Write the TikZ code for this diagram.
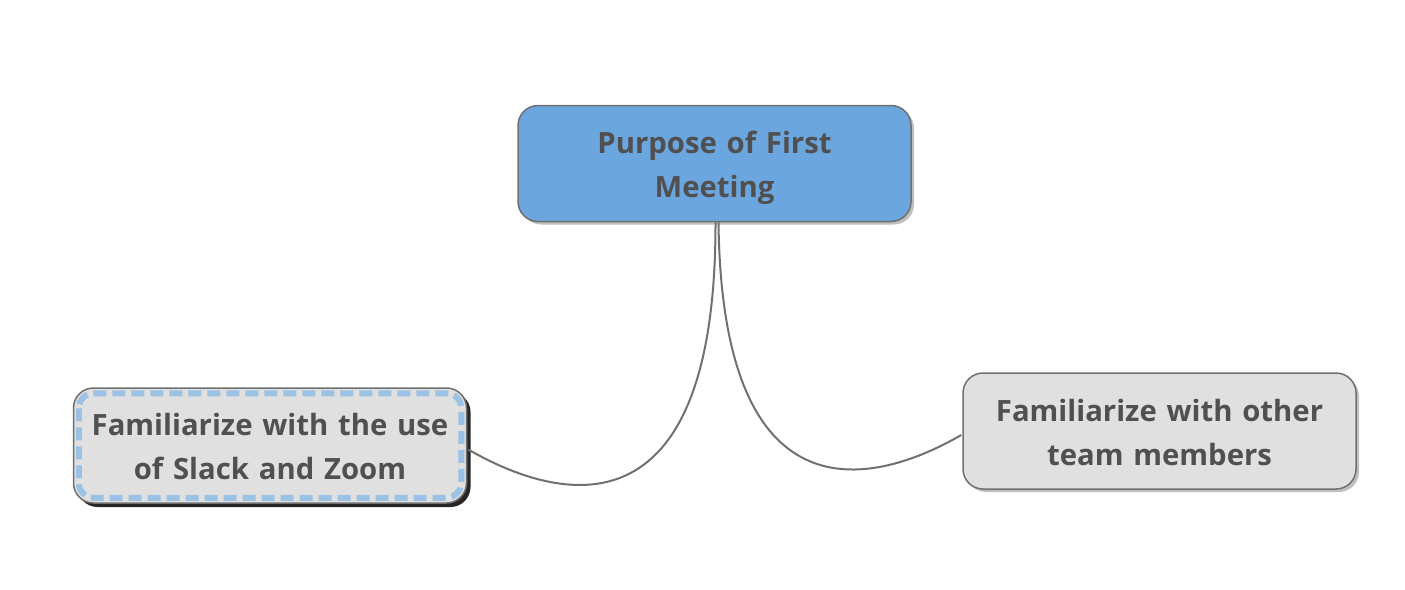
\documentclass[tikz,border=0pt]{standalone}
\usepackage{fontspec}
\setmainfont{Open Sans}
\usetikzlibrary{shadows,calc}

\definecolor{topic}{HTML}{6BA6DE}
\definecolor{subtopic}{HTML}{E0E0E0}
\definecolor{edge}{HTML}{707070}
\definecolor{ink}{HTML}{505050}
\definecolor{selblue}{HTML}{9BC1E4}

\newcommand{\linestrut}{\rule[-8pt]{0pt}{40pt}}

\tikzset{
    box/.style={draw=edge, line width=1.5pt, rounded corners=20pt, minimum width=393pt, minimum height=116pt, text width=385pt, align=center, text=ink, font=\fontsize{29.3}{44}\selectfont\bfseries, execute at begin node=\linestrut, execute at end node=\linestrut},
    softshadow/.style={drop shadow={shadow xshift=3pt, shadow yshift=-3pt, opacity=0.25, fill=black}},
    hardshadow/.style={drop shadow={shadow xshift=4pt, shadow yshift=-4pt, opacity=0.85, fill=black}},
    link/.style={draw=edge, line width=2pt}
}

\begin{document}
\begin{tikzpicture}[x=1pt, y=-1pt]
    \useasboundingbox (0, 0) rectangle (1405, 589);

    \coordinate (topC) at (714.5, 163.5);
    \coordinate (leftC) at (270, 445.5);
    \coordinate (rightC) at (1159.5, 431);

    % Draw
    \node[box, fill=topic, softshadow] (purpose) at (topC) {Purpose of First\\Meeting};
    \node[box, fill=subtopic, hardshadow, minimum height=115pt] (tools) at (leftC) {Familiarize with the use\\of Slack and Zoom};
    \node[box, fill=subtopic, softshadow] (team) at (rightC) {Familiarize with other\\team members};

    \draw[selblue, line width=6pt, dash pattern=on 13pt off 6pt, rounded corners=15pt] ($(tools.north west)+(6, 6)$) rectangle ($(tools.south east)+(-6, -6)$);

    \draw[link] ($(purpose.south)+(1, 0)$) .. controls (716, 530) and (570, 508) .. ($(tools.east)+(1, 4)$);
    \draw[link] ($(purpose.south)+(4, 0)$) .. controls (722, 530) and (880, 482) .. ($(team.west)+(-1, 4)$);
\end{tikzpicture}
\end{document}
